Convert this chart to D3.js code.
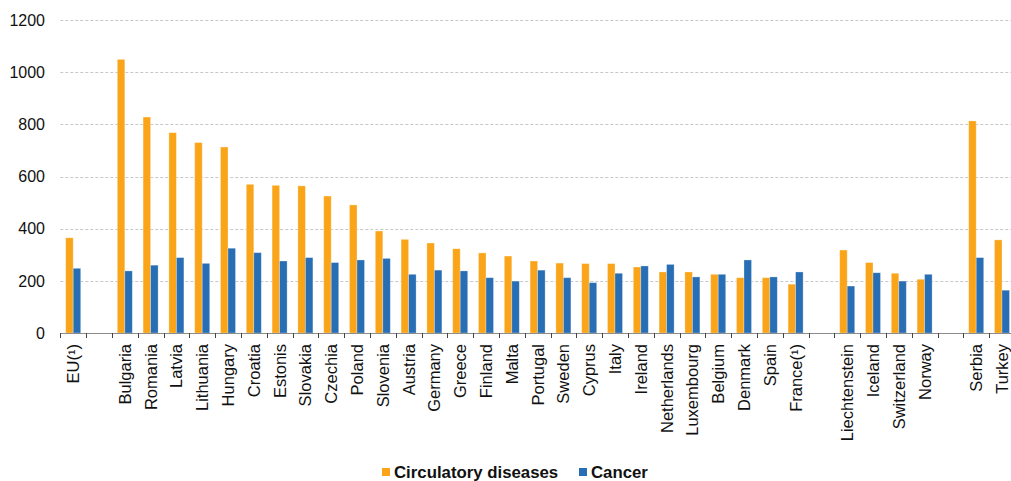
<!DOCTYPE html>
<html>
<head>
<meta charset="utf-8">
<script src="https://cdn.jsdelivr.net/npm/d3@7"></script>
<style>
  html, body { margin: 0; padding: 0; background: #fff; }
  svg { display: block; font-family: "Liberation Sans", Arial, sans-serif; }
</style>
</head>
<body>
<svg id="chart" width="1011" height="481"></svg>
<script>
// Countries in display order; empty strings are spacer slots between groups
const categories = [
  "EU(¹)", "",
  "Bulgaria", "Romania", "Latvia", "Lithuania", "Hungary", "Croatia", "Estonis",
  "Slovakia", "Czechia", "Poland", "Slovenia", "Austria", "Germany", "Greece",
  "Finland", "Malta", "Portugal", "Sweden", "Cyprus", "Italy", "Ireland",
  "Netherlands", "Luxembourg", "Belgium", "Denmark", "Spain", "France(¹)", " ",
  "Liechtenstein", "Iceland", "Switzerland", "Norway", "  ",
  "Serbia", "Turkey"
];

// Standardised death rates per 100 000 inhabitants
const circulatory = [
  365, null,
  1049, 828, 768, 730, 713, 570, 566,
  564, 525, 491, 391, 359, 345, 323,
  307, 295, 276, 268, 266, 266, 253,
  234, 234, 225, 212, 212, 187, null,
  318, 270, 229, 206, null,
  813, 357
];
const cancer = [
  248, null,
  238, 260, 289, 267, 325, 308, 276,
  289, 270, 280, 286, 225, 241, 238,
  212, 199, 241, 212, 193, 229, 257,
  263, 215, 225, 280, 215, 234, null,
  180, 231, 199, 225, null,
  289, 164
];

const yTicks = [0, 200, 400, 600, 800, 1000, 1200];
const seriesNames = ["Circulatory diseases", "Cancer"];
const colors = ["#FAA519", "#286EB4"];

const svg = d3.select("#chart");
const x0 = 60.3, yBase = 333, yTop = 20;
const step = 25.8;

const x = d3.scaleBand()
  .domain(categories)
  .range([x0, x0 + step * categories.length])
  .paddingInner(0).paddingOuter(0);

const y = d3.scaleLinear().domain([0, 1200]).range([yBase, yTop]);

const inner = d3.scaleBand().domain([0, 1]).range([0, x.bandwidth()]).paddingOuter(0.72).paddingInner(0);

// gridlines
svg.append("g")
  .selectAll("line")
  .data(yTicks.filter(d => d > 0))
  .join("line")
  .attr("x1", x0).attr("x2", 1011)
  .attr("y1", d => Math.round(y(d)) + 0.5).attr("y2", d => Math.round(y(d)) + 0.5)
  .attr("stroke", "#c8c8c8")
  .attr("stroke-dasharray", "3,2")
  .attr("stroke-width", 1);

// y tick labels
svg.append("g")
  .selectAll("text")
  .data(yTicks)
  .join("text")
  .attr("x", 45)
  .attr("y", d => y(d))
  .attr("dy", "0.36em")
  .attr("text-anchor", "end")
  .attr("font-size", 16)
  .attr("fill", "#111")
  .text(d => d);

// bars
const series = [circulatory, cancer];
series.forEach((vals, si) => {
  svg.append("g")
    .selectAll("rect")
    .data(categories.map((c, i) => ({ c, v: vals[i] })).filter(d => d.v != null))
    .join("rect")
    .attr("x", d => x(d.c) + inner(si))
    .attr("width", inner.bandwidth())
    .attr("y", d => y(d.v))
    .attr("height", d => y(0) - y(d.v))
    .attr("fill", colors[si])
    .attr("stroke", "#ffffff")
    .attr("stroke-opacity", 0.35)
    .attr("stroke-width", 0.8);
});

// x axis line and ticks
const axis = svg.append("g");
axis.append("line")
  .attr("x1", x0).attr("x2", 1011)
  .attr("y1", yBase + 0.5).attr("y2", yBase + 0.5)
  .attr("stroke", "#8c8c8c").attr("stroke-width", 1.2);
const tickPos = d3.range(categories.length).map(i => x0 + i * x.step());
axis.selectAll("line.tick")
  .data(tickPos)
  .join("line")
  .attr("class", "tick")
  .attr("x1", d => Math.round(d) + 0.5).attr("x2", d => Math.round(d) + 0.5)
  .attr("y1", yBase).attr("y2", yBase + 5)
  .attr("stroke", "#444").attr("stroke-width", 1);

// category labels, rotated
axis.selectAll("text")
  .data(categories.filter(c => c.trim() !== ""))
  .join("text")
  .attr("transform", d => `translate(${x(d) + x.bandwidth() / 2},344) rotate(-90)`)
  .attr("dy", "0.36em")
  .attr("text-anchor", "end")
  .attr("font-size", 16.5)
  .attr("fill", "#111")
  .text(d => d);

// legend
const legend = svg.append("g");
const legendItems = [
  { name: seriesNames[0], color: colors[0], x: 382 },
  { name: seriesNames[1], color: colors[1], x: 579 }
];
legendItems.forEach(it => {
  legend.append("rect")
    .attr("x", it.x).attr("y", 468)
    .attr("width", 8).attr("height", 8)
    .attr("fill", it.color);
  legend.append("text")
    .attr("x", it.x + 12).attr("y", 478)
    .attr("font-size", 16.8)
    .attr("font-weight", "bold")
    .attr("fill", "#111")
    .text(it.name);
});
</script>
</body>
</html>
